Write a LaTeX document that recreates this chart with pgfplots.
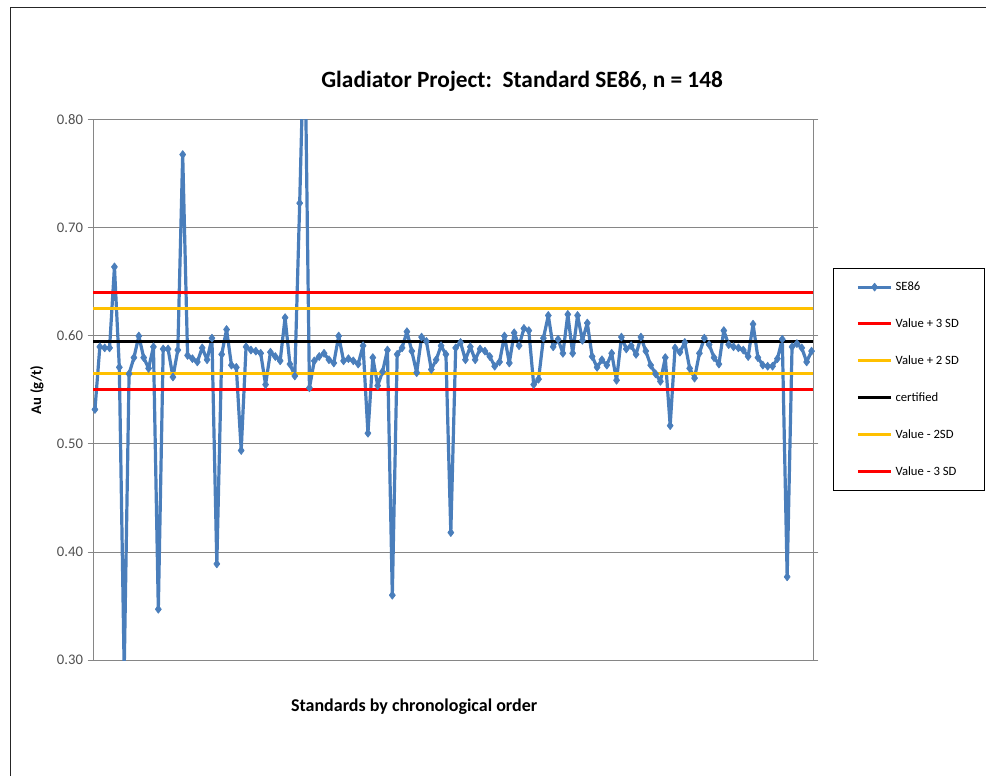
\documentclass[border=0pt]{standalone}
\usepackage{pgfplots}
\pgfplotsset{compat=1.18}
\usepackage{pgfplotstable}
\usepackage{fontspec}
\setmainfont{Carlito}
\definecolor{seblue}{RGB}{74,126,187}
\definecolor{gold}{RGB}{255,192,0}
\definecolor{axgray}{RGB}{134,134,134}
\definecolor{ticktext}{RGB}{80,80,80}

\pgfplotstableread{
y
0.532
0.590
0.589
0.589
0.664
0.571
0.290
0.565
0.580
0.600
0.580
0.570
0.590
0.347
0.588
0.588
0.562
0.587
0.768
0.582
0.579
0.576
0.589
0.578
0.598
0.389
0.583
0.606
0.573
0.571
0.494
0.590
0.587
0.586
0.584
0.555
0.585
0.581
0.577
0.617
0.574
0.563
0.723
0.900
0.552
0.577
0.581
0.584
0.578
0.575
0.600
0.577
0.579
0.577
0.574
0.591
0.510
0.580
0.554
0.567
0.587
0.360
0.583
0.589
0.604
0.586
0.566
0.599
0.595
0.569
0.578
0.591
0.583
0.418
0.589
0.594
0.578
0.590
0.578
0.588
0.586
0.581
0.572
0.576
0.600
0.575
0.603
0.591
0.607
0.605
0.555
0.560
0.598
0.619
0.590
0.597
0.584
0.620
0.584
0.619
0.596
0.612
0.581
0.571
0.578
0.573
0.584
0.559
0.599
0.588
0.591
0.583
0.599
0.586
0.573
0.565
0.558
0.580
0.517
0.589
0.585
0.594
0.570
0.561
0.584
0.598
0.592
0.580
0.574
0.605
0.592
0.590
0.589
0.587
0.581
0.611
0.580
0.573
0.572
0.572
0.579
0.597
0.377
0.590
0.593
0.589
0.576
0.586
}\sedata

\begin{document}
\begin{tikzpicture}
\path[use as bounding box] (0pt,0pt) rectangle (739.5pt,582pt);
\draw[black!85, line width=0.75pt] (7.5pt,0pt) -- (7.5pt,576pt) -- (739.5pt,576pt);
\begin{axis}[
  at={(69.75pt,87pt)}, anchor=south west,
  width=540pt, height=405pt, scale only axis,
  xmin=-0.4, xmax=147.3, ymin=0.30, ymax=0.80,
  xtick=\empty,
  ytick={0.3,0.4,0.5,0.6,0.7,0.8},
  /pgf/number format/assume math mode=true,
  yticklabel style={/pgf/number format/fixed, /pgf/number format/fixed zerofill, /pgf/number format/precision=2, font=\fontsize{11}{13}\selectfont, text=ticktext},
  ymajorgrids, grid style={axgray, line width=0.75pt},
  axis line style={axgray, line width=0.75pt},
  tick style={axgray, line width=0.75pt},
  tick align=outside, major tick length=4pt,
  ylabel={Au (g/t)},
  ylabel style={font=\bfseries\fontsize{11}{13}\selectfont, at={(axis description cs:-0.078,0.5)}, anchor=center},
  xlabel={Standards by chronological order},
  xlabel style={font=\bfseries\fontsize{13.5}{16}\selectfont, at={(axis description cs:0.446,-0.087)}, anchor=center},
  title={Gladiator Project:\ \ Standard SE86, n = 148},
  title style={font=\bfseries\fontsize{17.5}{21}\selectfont, at={(axis description cs:0.596,1.056)}, anchor=center},
  legend style={at={(1.028,0.726)}, anchor=north west, draw=black, line width=0.75pt,
    font=\fontsize{9.5}{11.5}\selectfont, row sep=15.6pt, inner xsep=17pt, inner ysep=8pt},
  legend cell align=left,
  legend image code/.code={\draw[mark repeat=2, mark phase=2, #1] plot coordinates {(0pt,0pt) (12.5pt,0pt) (25pt,0pt)};},
]
\addplot[seblue, line width=2.4pt, line join=round, mark=diamond*, mark size=3pt, mark options={solid, line width=0.5pt}] table[x expr=\coordindex, y=y] {\sedata};
\addlegendentry{SE86}
\addplot[red, line width=2.25pt] coordinates {(-0.4,0.64) (147.3,0.64)};
\addlegendentry{Value + 3 SD}
\addplot[gold, line width=2.25pt] coordinates {(-0.4,0.625) (147.3,0.625)};
\addlegendentry{Value + 2 SD}
\addplot[black, line width=2.25pt] coordinates {(-0.4,0.595) (147.3,0.595)};
\addlegendentry{certified}
\addplot[gold, line width=2.25pt] coordinates {(-0.4,0.565) (147.3,0.565)};
\addlegendentry{Value - 2SD}
\addplot[red, line width=2.25pt] coordinates {(-0.4,0.55) (147.3,0.55)};
\addlegendentry{Value - 3 SD}
\end{axis}
\end{tikzpicture}
\end{document}
